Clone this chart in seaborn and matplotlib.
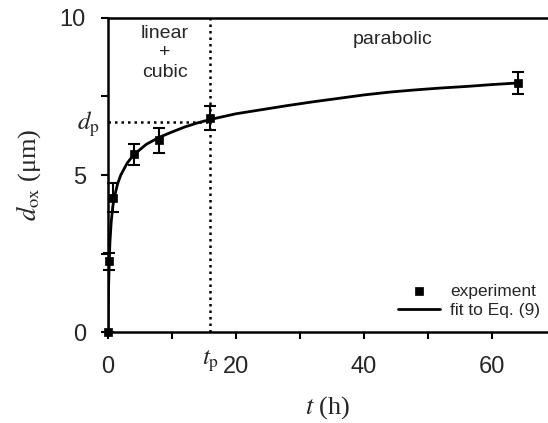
import matplotlib
matplotlib.use("Agg")
import matplotlib.pyplot as plt
import matplotlib.transforms as mtransforms
import seaborn as sns
import numpy as np

# experimental data
t_exp = [0, 0.2, 0.83, 4, 8, 16, 64]
d_exp = [0, 2.25, 4.27, 5.66, 6.1, 6.82, 7.93]
d_err = [0, 0.28, 0.46, 0.33, 0.41, 0.39, 0.35]

# fit curve
t_fit = [0, 0.05, 0.1, 0.2, 0.3, 0.5, 0.75, 1, 1.5, 2, 3, 4, 6, 8, 10, 12, 14, 16,
         20, 24, 28, 32, 36, 40, 44, 48, 52, 56, 60, 64]
d_fit = [0, 0.9, 1.5, 2.25, 2.85, 3.5, 4.0, 4.3, 4.72, 5.0, 5.38, 5.64, 5.98, 6.2, 6.37,
         6.53, 6.66, 6.77, 6.95, 7.08, 7.21, 7.33, 7.44, 7.55, 7.64, 7.71, 7.77, 7.82,
         7.88, 7.93]

t_p = 16
d_p = 6.7

x_major = [0, 20, 40, 60]
x_minor = [10, 30, 50]
y_major = [0, 5, 10]
y_minor = [2.5, 7.5]

sns.set_style("ticks")
plt.rcParams['font.family'] = ['Liberation Sans', 'DejaVu Sans']
plt.rcParams['mathtext.fontset'] = 'stix'

fig = plt.figure(figsize=(5.48, 4.23), dpi=100)
ax = fig.add_axes([108 / 548, 1 - 332 / 423, 1 - 108 / 548, (332 - 18) / 423])

sns.lineplot(x=t_fit, y=d_fit, color='black', lw=2.0, ax=ax, label='fit to Eq. (9)', zorder=3)
ax.errorbar(t_exp, d_exp, yerr=d_err, fmt='none', ecolor='black', elinewidth=1.5,
            capsize=4, capthick=1.5, zorder=4, clip_on=False)
sns.scatterplot(x=t_exp, y=d_exp, marker='s', s=32, color='black', edgecolor='black',
                linewidth=0.5, ax=ax, label='experiment', zorder=5, clip_on=False)

# dotted guide lines
ax.plot([t_p, t_p], [0, 10], color='black', ls=(0, (1, 1.6)), lw=1.8, zorder=2)
ax.plot([0, t_p], [d_p, d_p], color='black', ls=(0, (1, 1.6)), lw=1.8, zorder=2)

ax.set_xlim(0, 68.75)
ax.set_ylim(0, 10)
ax.set_xticks(x_major)
ax.set_xticks(x_minor, minor=True)
ax.set_yticks(y_major)
ax.set_yticks(y_minor, minor=True)
ax.tick_params(which='both', direction='out', length=5, width=1.5, color='black')
ax.tick_params(axis='x', which='major', labelsize=17, pad=12)
ax.tick_params(axis='y', which='major', labelsize=17, pad=11)

for s in ['top', 'left', 'bottom']:
    ax.spines[s].set_linewidth(1.8)
    ax.spines[s].set_color('black')
ax.spines['right'].set_visible(False)

ax.set_xlabel(r'$t$ (h)', fontsize=19, family='Liberation Serif', labelpad=12)
ax.set_ylabel(r'$d_{\rm ox}$ (μm)', fontsize=19, family='Liberation Serif', labelpad=12)

ax.text(8.9, 8.89, 'linear\n+\ncubic', ha='center', va='center', fontsize=14,
        linespacing=1.2)
ax.text(44.5, 9.3, 'parabolic', ha='center', va='center', fontsize=14)

trans_y = mtransforms.blended_transform_factory(ax.transAxes, ax.transData)
ax.text(-0.045, 6.6, r'$d_{\rm p}$', transform=trans_y, ha='center', va='center', fontsize=18)
trans_x = mtransforms.blended_transform_factory(ax.transData, ax.transAxes)
ax.text(t_p, -0.095, r'$t_{\rm p}$', transform=trans_x, ha='center', va='center', fontsize=18)

handles, labels = ax.get_legend_handles_labels()
order = [labels.index('experiment'), labels.index('fit to Eq. (9)')]
leg = ax.legend([handles[i] for i in order], [labels[i] for i in order],
                loc='lower right', bbox_to_anchor=(540 / 548, 1 - 318 / 423),
                bbox_transform=fig.transFigure, frameon=False, fontsize=12.5,
                handlelength=2.4, handletextpad=0.6, labelspacing=0.25,
                borderpad=0, borderaxespad=0)

fig.savefig('out.png', dpi=100)
